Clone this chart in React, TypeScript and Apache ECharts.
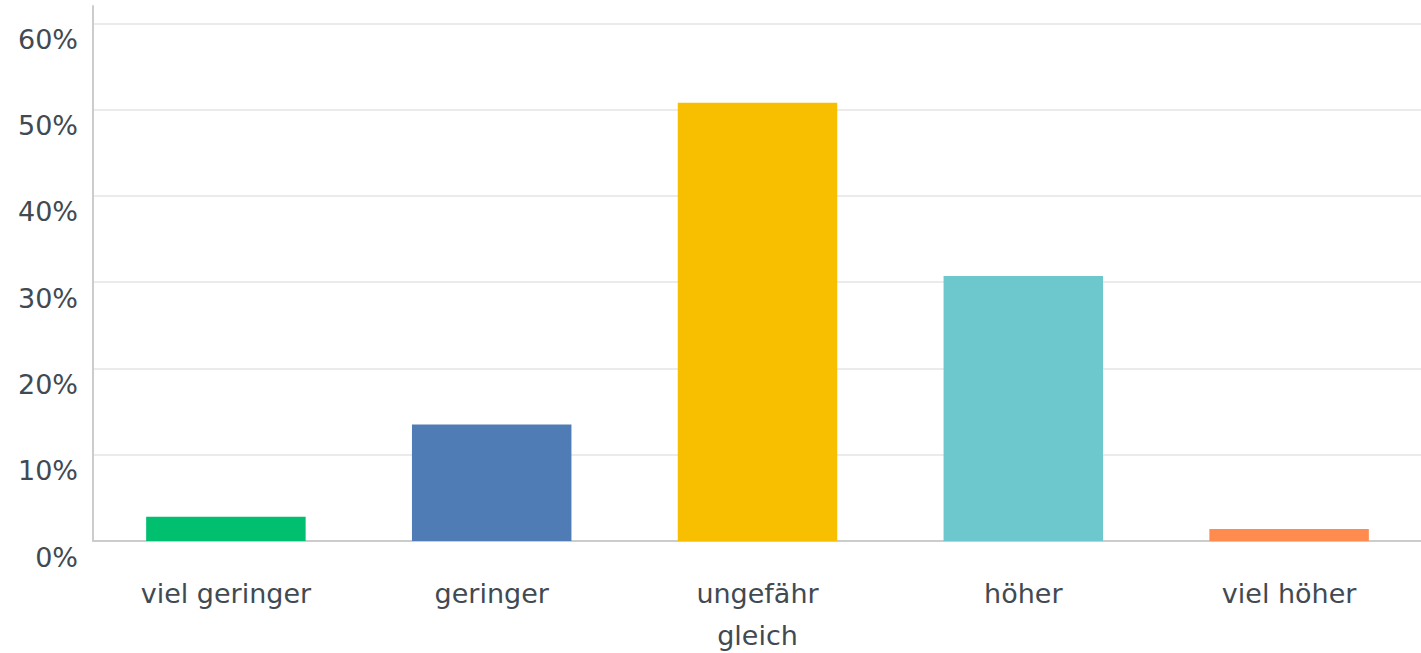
import React, { useEffect, useRef } from "react";
import * as echarts from "echarts";

const categories = ["viel geringer", "geringer", "ungefähr\ngleich", "höher", "viel höher"];
const values = [2.8, 13.5, 50.8, 30.7, 1.4];
const barColors = ["#00bf6f", "#507cb6", "#f7bf00", "#6cc8cc", "#ff8b4f"];
const yTicks = [0, 10, 20, 30, 40, 50, 60];

export default function App() {
  const ref = useRef<HTMLDivElement>(null);
  useEffect(() => {
    if (!ref.current) return;
    const chart = echarts.init(ref.current, undefined, { renderer: "svg" });
    const font = "DejaVu Sans, sans-serif";
    chart.setOption({
      animation: false,
      grid: {
        left: 93,
        right: -1,
        top: 6,
        bottom: 112,
        containLabel: false,
        outerBoundsMode: "none",
      },
      xAxis: {
        type: "category",
        data: categories,
        axisLine: { show: true, lineStyle: { color: "#cccccc", width: 2 } },
        axisTick: { show: false },
        axisLabel: {
          color: "#414a52",
          fontFamily: font,
          fontSize: 27,
          lineHeight: 42,
          margin: 31,
          verticalAlign: "top",
          interval: 0,
        },
      },
      yAxis: {
        type: "value",
        min: 0,
        max: 62,
        interval: 10,
        axisLine: { show: true, lineStyle: { color: "#cccccc", width: 2 } },
        axisTick: { show: false },
        splitLine: { show: true, showMaxLine: false, lineStyle: { color: "#ebebeb", width: 2 } },
        axisLabel: {
          color: "#414a52",
          fontFamily: font,
          fontSize: 27,
          lineHeight: 32,
          verticalAlign: "top",
          margin: 15,
          showMaxLabel: false,
          formatter: (v: number) => (yTicks.includes(v) ? v + "%" : ""),
        },
      },
      series: [
        {
          type: "bar",
          barWidth: "60%",
          data: values.map((v, i) => ({ value: v, itemStyle: { color: barColors[i] } })),
        },
      ],
    });
    return () => chart.dispose();
  }, []);
  return <div ref={ref} style={{ width: 1421, height: 653, position: "absolute", left: 0, top: 0 }} />;
}
